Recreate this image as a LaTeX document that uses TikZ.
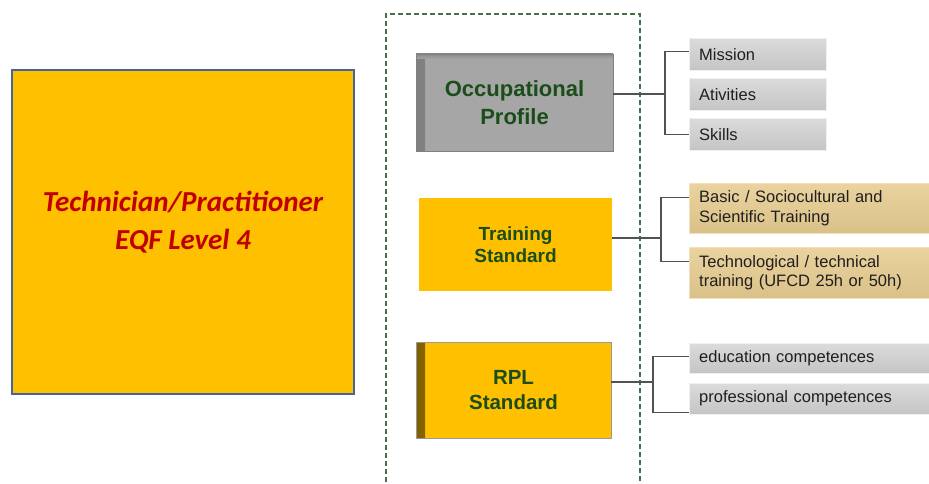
\documentclass[tikz,border=0pt]{standalone}
\usepackage{fontspec}
\setmainfont{Liberation Sans}
\newfontfamily\cali{Carlito}
\usetikzlibrary{calc,positioning}
\definecolor{gold}{HTML}{FFC000}
\definecolor{opgray}{HTML}{A6A6A6}
\definecolor{headgreen}{HTML}{1B4D1B}
\definecolor{eqfred}{HTML}{C00000}
\definecolor{eqfblue}{HTML}{41669E}
\definecolor{dashgreen}{HTML}{42704A}
\definecolor{papyrus}{HTML}{E6CB8F}
\begin{document}
\begin{tikzpicture}[x=1pt,y=-1pt,
    headbox/.style={rectangle,inner sep=0pt,align=center,text=headgreen,font=\bfseries},
    sidebox/.style={rectangle,anchor=north west,inner xsep=10pt,inner ysep=0pt,align=left,text=black!88,font=\fontsize{16.5}{19.5}\selectfont},
    graybox/.style={sidebox,top color=black!14,bottom color=black!23,draw=black!6},
    paperbox/.style={sidebox,top color=papyrus!85!white,bottom color=papyrus!95!black,draw=papyrus!60!white},
    link/.style={draw=black!68,line width=1.3pt}]
  \useasboundingbox (0,0) rectangle (929,484);
  \node[rectangle,draw=eqfblue,line width=2pt,fill=gold,minimum width=342pt,minimum height=324pt](eqf)at(182.5,232){};
  \node[align=center,text=eqfred,font=\cali\bfseries\itshape\fontsize{29}{38}\selectfont](eqftxt)at(183,222){Technician/Practitioner\\EQF Level 4};
  \draw[dashgreen,line width=1.3pt,dash pattern=on 5pt off 3pt] (386,490) |- (640,14) -- (640,490);
  \node[headbox,fill=opgray,draw=black!50,minimum width=197pt,minimum height=97pt,font=\bfseries\fontsize{22}{28}\selectfont,
    path picture={\shade[left color=black!50,right color=opgray](path picture bounding box.south west)rectangle([xshift=9pt]path picture bounding box.north west);
      \shade[top color=black!45,bottom color=opgray](path picture bounding box.north west)rectangle([yshift=-5pt]path picture bounding box.north east);}](op)at(514.5,102.5){Occupational\\Profile};
  \node[headbox,fill=gold,minimum width=193pt,minimum height=93pt,font=\bfseries\fontsize{19}{22.5}\selectfont](ts)at(515.5,244.5){Training\\Standard};
  \node[headbox,fill=gold,draw=black!40,minimum width=195pt,minimum height=96pt,font=\bfseries\fontsize{20.5}{24.5}\selectfont,
    path picture={\shade[left color=gold!50!black,right color=gold](path picture bounding box.south west)rectangle([xshift=9pt]path picture bounding box.north west);}](rpl)at(513.5,390){RPL\\Standard};
  \node[graybox,text width=117pt,minimum height=32pt](mis)at(689,38){Mission};
  \node[graybox,text width=117pt,minimum height=32pt](act)at(689,78){Ativities};
  \node[graybox,text width=117pt,minimum height=32pt](skl)at(689,118){Skills};
  \node[paperbox,text width=226pt,minimum height=50pt](bas)at(689,183){Basic / Sociocultural and\\Scientific Training};
  \node[paperbox,text width=226pt,minimum height=51pt](tec)at(689,247){Technological / technical\\training (UFCD 25h or 50h)};
  \node[graybox,text width=226pt,minimum height=30pt](edu)at(689,343){education competences};
  \node[graybox,text width=226pt,minimum height=31pt](pro)at(689,383){professional competences};
  \coordinate(j1)at(665,94);
  \coordinate(j2)at(661,238);
  \coordinate(j3)at(653,382);
  \draw[link]([yshift=8.5pt]op.east)--(j1);
  \draw[link]([yshift=3pt]mis.west)-|(j1)|-(skl.west);
  \draw[link]([yshift=6.5pt]ts.east)--(j2);
  \draw[link]([yshift=11pt]bas.west)-|(j2)|-([yshift=11pt]tec.west);
  \draw[link]([yshift=8pt]rpl.east)--(j3);
  \draw[link]([yshift=2pt]edu.west)-|(j3)|-([yshift=-13.5pt]pro.west);
\end{tikzpicture}
\end{document}
